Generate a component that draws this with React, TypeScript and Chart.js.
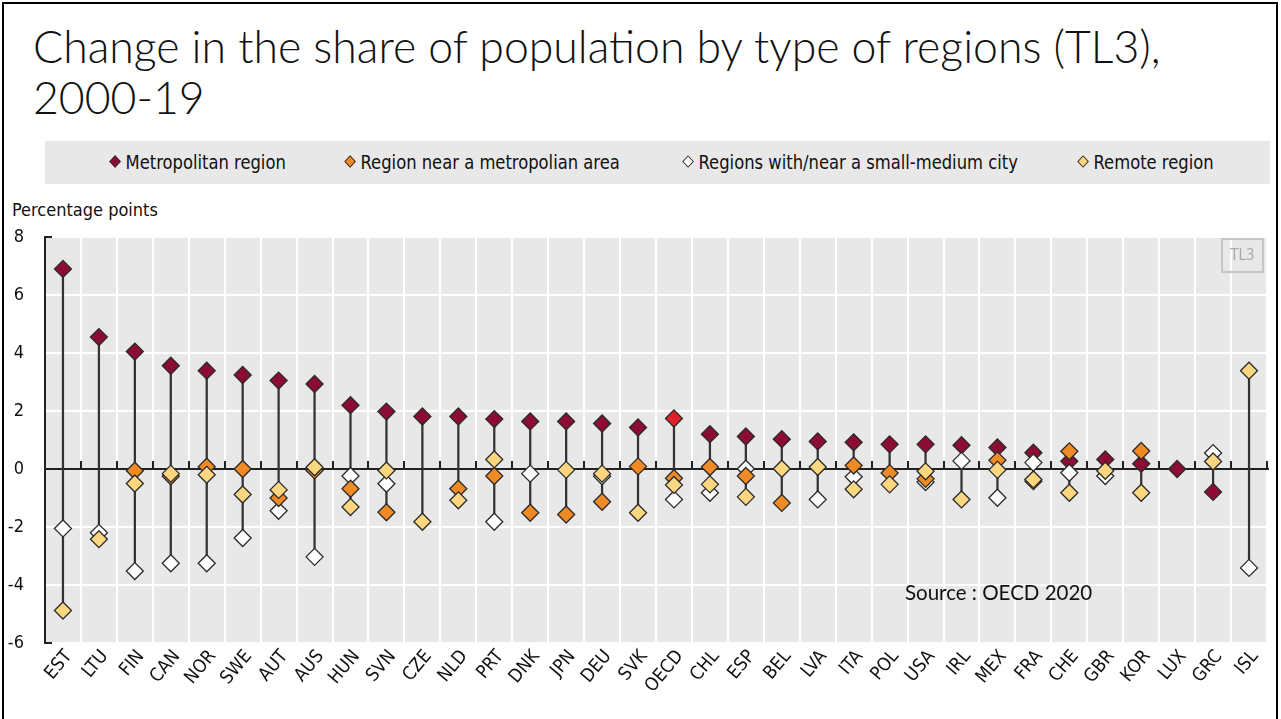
import React, { useEffect, useRef } from "react";
import { Chart, registerables } from "chart.js";

Chart.register(...registerables);

const countries = ["EST","LTU","FIN","CAN","NOR","SWE","AUT","AUS","HUN","SVN","CZE","NLD","PRT","DNK","JPN","DEU","SVK","OECD","CHL","ESP","BEL","LVA","ITA","POL","USA","IRL","MEX","FRA","CHE","GBR","KOR","LUX","GRC","ISL"];

const metropolitan = [6.9, 4.55, 4.05, 3.56, 3.39, 3.24, 3.05, 2.93, 2.2, 1.98, 1.81, 1.81, 1.72, 1.64, 1.64, 1.57, 1.43, 1.74, 1.2, 1.12, 1.03, 0.95, 0.92, 0.85, 0.85, 0.82, 0.74, 0.56, 0.27, 0.33, 0.18, 0.0, -0.79, null];
const nearMetro = [null, null, -0.06, -0.25, 0.08, 0.0, -1.0, -0.05, -0.68, -1.49, null, -0.68, -0.24, -1.51, -1.57, -1.13, 0.09, -0.32, 0.07, -0.24, -1.17, null, 0.12, -0.14, -0.34, null, 0.3, -0.42, 0.61, null, 0.62, null, null, null];
const smallMediumCity = [-2.05, -2.2, -3.52, -3.25, -3.25, -2.38, -1.44, -3.03, -0.24, -0.51, null, null, -1.82, -0.16, null, -0.25, null, -1.05, -0.82, 0.01, null, -1.05, -0.27, null, -0.45, 0.28, -0.99, 0.22, -0.13, -0.24, null, null, 0.55, -3.41];
const remote = [-4.88, -2.42, -0.5, -0.16, -0.2, -0.88, -0.72, 0.06, -1.31, -0.05, -1.82, -1.08, 0.33, null, -0.03, -0.16, -1.51, -0.55, -0.53, -0.96, 0.01, 0.07, -0.7, -0.53, -0.08, -1.05, -0.03, -0.36, -0.82, -0.06, -0.82, null, 0.26, 3.39];

const seriesNames = ["Metropolitan region", "Region near a metropolian area", "Regions with/near a small-medium city", "Remote region"];
const yTicks = [-6, -4, -2, 0, 2, 4, 6, 8];

const C_METRO = "#8c0c34";
const C_OECD = "#e3202a";
const C_NEAR = "#f08a24";
const C_SMALL = "#ffffff";
const C_REMOTE = "#fdd680";
const C_EDGE = "#2b2b2b";

const NARROW = "'Liberation Sans Narrow', 'Arial Narrow', 'DejaVu Sans Condensed', 'Roboto Condensed', sans-serif";

const decor = {
  id: "decor",
  beforeDraw(chart: any) {
    const { ctx, chartArea: a } = chart;
    ctx.save();
    ctx.fillStyle = "#e8e8e8";
    ctx.fillRect(a.left, a.top, a.right - a.left, a.bottom - a.top);
    ctx.restore();
  },
  beforeDatasetsDraw(chart: any) {
    const { ctx, chartArea: a } = chart;
    const xs = chart.scales.x;
    const ys = chart.scales.y;
    const y0 = ys.getPixelForValue(0);
    const step = xs.getPixelForValue(1) - xs.getPixelForValue(0);
    ctx.save();
    ctx.strokeStyle = "#222";
    ctx.lineWidth = 2;
    ctx.beginPath();
    ctx.moveTo(a.left, y0);
    ctx.lineTo(a.right + 2, y0);
    for (let i = 1; i <= countries.length; i++) {
      const bx = Math.round(xs.getPixelForValue(i) - step / 2);
      ctx.moveTo(bx, y0);
      ctx.lineTo(bx, y0 - 8);
    }
    const yt = ys.getPixelForValue(ys.max);
    const yb = ys.getPixelForValue(ys.min);
    ctx.moveTo(a.left, yt);
    ctx.lineTo(a.left + 7, yt);
    ctx.moveTo(a.left, yb);
    ctx.lineTo(a.left + 7, yb);
    ctx.stroke();
    ctx.restore();
  },
};

function rangeOf(i: number): [number, number] {
  const vals = [metropolitan[i], nearMetro[i], smallMediumCity[i], remote[i]].filter((v) => v !== null) as number[];
  return [Math.min(...vals), Math.max(...vals)];
}

function Diamond({ color }: { color: string }) {
  return (
    <span
      style={{
        display: "inline-block",
        width: 7,
        height: 7,
        background: color,
        border: `1px solid ${C_EDGE}`,
        transform: "rotate(45deg)",
        marginRight: 7,
        verticalAlign: "middle",
        position: "relative",
        top: -2,
      }}
    />
  );
}

export default function App() {
  const ref = useRef<HTMLCanvasElement | null>(null);

  useEffect(() => {
    if (!ref.current) return;
    const pointCommon = {
      type: "line" as const,
      showLine: false,
      pointStyle: "rectRot",
      pointRadius: 8.5,
      pointHoverRadius: 8.5,
      pointBorderWidth: 1.3,
      pointBorderColor: C_EDGE,
    };
    const chart = new Chart(ref.current, {
      type: "bar",
      data: {
        labels: countries,
        datasets: [
          {
            type: "bar",
            label: "range",
            data: countries.map((_, i) => rangeOf(i)) as any,
            backgroundColor: "#333",
            borderWidth: 0,
            barThickness: 1.6,
            order: 10,
          } as any,
          {
            ...pointCommon,
            label: seriesNames[0],
            data: metropolitan,
            pointBackgroundColor: countries.map((c) => (c === "OECD" ? C_OECD : C_METRO)),
            order: 4,
          },
          {
            ...pointCommon,
            label: seriesNames[2],
            data: smallMediumCity,
            pointBackgroundColor: C_SMALL,
            order: 3,
          },
          {
            ...pointCommon,
            label: seriesNames[1],
            data: nearMetro,
            pointBackgroundColor: C_NEAR,
            order: 2,
          },
          {
            ...pointCommon,
            label: seriesNames[3],
            data: remote,
            pointBackgroundColor: C_REMOTE,
            order: 1,
          },
        ],
      },
      options: {
        animation: false,
        responsive: false,
        layout: { padding: { left: 0, right: 14, top: 47, bottom: 0 } },
        plugins: {
          legend: { display: false },
          tooltip: { enabled: false },
        },
        scales: {
          x: {
            type: "category",
            offset: true,
            grid: { color: "#ffffff", lineWidth: 2, drawTicks: false, offset: true },
            border: { display: false },
            ticks: {
              autoSkip: false,
              maxRotation: 50,
              minRotation: 50,
              color: "#111",
              padding: 3,
              labelOffset: 6,
              font: { family: NARROW, size: 18.5 },
            },
            afterFit(scale: any) {
              scale.height = 76;
            },
          },
          y: {
            min: -6,
            max: 8,
            afterBuildTicks(scale: any) {
              scale.ticks = yTicks.map((v) => ({ value: v }));
            },
            grid: { color: "#ffffff", lineWidth: 2, drawTicks: false },
            border: { display: true, color: "#222", width: 2 },
            ticks: {
              color: "#111",
              padding: 21,
              font: { family: NARROW, size: 18 },
            },
            afterFit(scale: any) {
              scale.width = 45;
            },
          },
        },
      },
      plugins: [decor],
    } as any);
    return () => chart.destroy();
  }, []);

  const legendItems = [
    { name: seriesNames[0], color: C_METRO, left: 111 },
    { name: seriesNames[1], color: C_NEAR, left: 346 },
    { name: seriesNames[2], color: C_SMALL, left: 684 },
    { name: seriesNames[3], color: C_REMOTE, left: 1079 },
  ];

  return (
    <div style={{ position: "fixed", left: 0, top: 0, width: 1281, height: 719, background: "#fff", overflow: "hidden" }}>
      <div style={{ position: "absolute", left: 2, top: 2, width: 1276, height: 730, border: "2px solid #000", boxSizing: "border-box" }} />
      <div
        style={{
          position: "absolute",
          left: 33,
          top: 20,
          width: 1240,
          fontFamily: "Lato, 'Open Sans', sans-serif",
          fontWeight: 300,
          fontSize: 44.6,
          lineHeight: "51px",
          color: "#111",
          whiteSpace: "nowrap",
        }}
      >
        Change in the share of population by type of regions (TL3),
        <br />
        2000-19
      </div>
      <div style={{ position: "absolute", left: 45, top: 141, width: 1225, height: 43, background: "#e8e8e8" }} />
      {legendItems.map((it) => (
        <div
          key={it.name}
          style={{
            position: "absolute",
            left: it.left,
            top: 141,
            height: 43,
            lineHeight: "43px",
            fontFamily: NARROW,
            fontSize: 20,
            color: "#111",
            whiteSpace: "nowrap",
            transform: "scaleX(0.91)",
            transformOrigin: "left center",
          }}
        >
          <Diamond color={it.color} />
          {it.name}
        </div>
      ))}
      <div style={{ position: "absolute", left: 12, top: 199, fontFamily: NARROW, fontSize: 18, color: "#111", whiteSpace: "nowrap" }}>
        Percentage points
      </div>
      <canvas ref={ref} width={1281} height={529} style={{ position: "absolute", left: 0, top: 190, width: 1281, height: 529 }} />
      <div
        style={{
          position: "absolute",
          left: 1221,
          top: 238,
          width: 43,
          height: 35,
          border: "2px solid #c6c6c6",
          boxSizing: "border-box",
          color: "#aaa",
          fontFamily: NARROW,
          fontSize: 15,
          lineHeight: "31px",
          textAlign: "center",
        }}
      >
        TL3
      </div>
      <div style={{ position: "absolute", left: 905, top: 580, fontFamily: "Lato, 'Open Sans', sans-serif", fontSize: 20.5, color: "#111", whiteSpace: "nowrap" }}>
        Source : OECD 2020
      </div>
    </div>
  );
}
